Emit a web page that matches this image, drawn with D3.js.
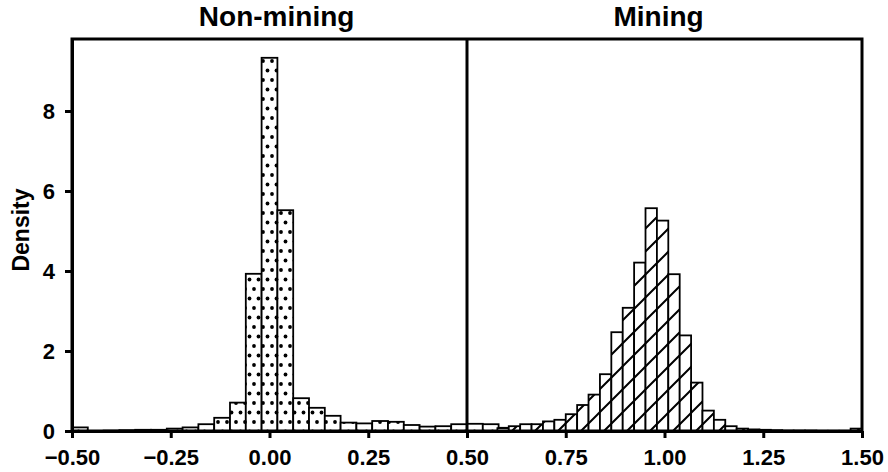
<!DOCTYPE html>
<html>
<head>
<meta charset="utf-8">
<script src="https://cdn.jsdelivr.net/npm/d3@7"></script>
<style>
  body { margin: 0; background: #fff; }
  text { font-family: "Liberation Sans", Arial, sans-serif; font-weight: bold; fill: #000; }
</style>
</head>
<body>
<div id="chart"></div>
<script>
// panel titles and axis ticks
const panelTitles = ["Non-mining", "Mining"];
const xTicks = [-0.5, -0.25, 0, 0.25, 0.5, 0.75, 1, 1.25, 1.5];
const yTicks = [0, 2, 4, 6, 8];

// non-mining histogram: bins of 0.04 starting at -0.50
const nonMiningStart = -0.5;
const nonMiningWidth = 0.04;
const nonMiningDensity = [
  0.09, 0.0, 0.01, 0.02, 0.03, 0.03, 0.06, 0.09, 0.17, 0.33,
  0.71, 3.93, 9.33, 5.52, 0.82, 0.58, 0.38, 0.21, 0.19, 0.25,
  0.23, 0.15, 0.11, 0.12, 0.17, 0.18, 0.17, 0.08, 0.06, 0.05,
  0.04, 0.03
];

// mining histogram: bins of ~0.0288 ending at 1.50
const miningWidth = 0.75 / 26;
const miningStart = 0.75 - 6 * miningWidth;
const miningDensity = [
  0.07, 0.12, 0.17, 0.17, 0.24, 0.28, 0.42, 0.65, 0.91, 1.42,
  2.47, 3.08, 4.21, 5.57, 5.26, 3.92, 2.39, 1.21, 0.51, 0.28,
  0.12, 0.06, 0.04, 0.03, 0.02, 0.01, 0.01, 0.01, 0.005, 0.005,
  0.005, 0.06
];

const w = 888, h = 472;
const margin = { top: 39, right: 26, bottom: 41, left: 72 };

const svg = d3.select("#chart").append("svg")
  .attr("width", w)
  .attr("height", h);

const x = d3.scaleLinear().domain([-0.5, 1.5]).range([margin.left, w - margin.right]);
const y = d3.scaleLinear().domain([0, 9.8]).range([h - margin.bottom, margin.top]);

// patterns
const defs = svg.append("defs");
const dots = defs.append("pattern")
  .attr("id", "dots")
  .attr("patternUnits", "userSpaceOnUse")
  .attr("width", 9).attr("height", 19);
dots.append("rect").attr("width", 9).attr("height", 19).attr("fill", "#fff");
dots.append("circle").attr("cx", 2).attr("cy", 4).attr("r", 1.9).attr("fill", "#000");
dots.append("circle").attr("cx", 6.5).attr("cy", 13.5).attr("r", 1.9).attr("fill", "#000");

const hatch = defs.append("pattern")
  .attr("id", "hatch")
  .attr("patternUnits", "userSpaceOnUse")
  .attr("width", 23).attr("height", 23);
hatch.append("rect").attr("width", 23).attr("height", 23).attr("fill", "#fff");
hatch.append("path")
  .attr("d", "M-2,25 L25,-2 M-2,2 L2,-2 M21,25 L25,21")
  .attr("stroke", "#000").attr("stroke-width", 2);

const clip = defs.append("clipPath").attr("id", "plotclip");
clip.append("rect")
  .attr("x", x(-0.5)).attr("y", margin.top)
  .attr("width", x(1.5) - x(-0.5)).attr("height", y(0) - margin.top);

const nonMining = nonMiningDensity.map((d, i) => ({
  x0: nonMiningStart + i * nonMiningWidth,
  x1: nonMiningStart + (i + 1) * nonMiningWidth,
  v: d
}));
const mining = miningDensity.map((d, i) => ({
  x0: miningStart + i * miningWidth,
  x1: miningStart + (i + 1) * miningWidth,
  v: d
}));

const bars = svg.append("g").attr("clip-path", "url(#plotclip)");

function drawBars(data, fill) {
  bars.append("g")
    .selectAll("rect")
    .data(data)
    .enter()
    .append("rect")
    .attr("x", d => x(d.x0))
    .attr("width", d => x(d.x1) - x(d.x0))
    .attr("y", d => y(d.v))
    .attr("height", d => y(0) - y(d.v))
    .attr("fill", fill)
    .attr("stroke", "#000")
    .attr("stroke-width", 1.8);
}
drawBars(nonMining, "url(#dots)");
drawBars(mining, "url(#hatch)");

// frame
svg.append("rect")
  .attr("x", x(-0.5)).attr("y", margin.top)
  .attr("width", x(1.5) - x(-0.5)).attr("height", y(0) - margin.top)
  .attr("fill", "none").attr("stroke", "#000").attr("stroke-width", 3);

// separator at 0.5
svg.append("line")
  .attr("x1", x(0.5)).attr("x2", x(0.5))
  .attr("y1", margin.top).attr("y2", y(0))
  .attr("stroke", "#000").attr("stroke-width", 3);

// axes
const xAxis = svg.append("g")
  .attr("transform", `translate(0,${y(0)})`)
  .call(d3.axisBottom(x).tickValues(xTicks).tickFormat(d3.format(".2f")).tickSize(7).tickPadding(11).tickSizeOuter(0));
const yAxis = svg.append("g")
  .attr("transform", `translate(${x(-0.5)},0)`)
  .call(d3.axisLeft(y).tickValues(yTicks).tickSize(7).tickPadding(10).tickSizeOuter(0));

[xAxis, yAxis].forEach(g => {
  g.select(".domain").attr("stroke-width", 3);
  g.selectAll(".tick line").attr("stroke-width", 3);
  g.selectAll(".tick text")
    .attr("font-size", 22)
    .attr("font-family", "'Liberation Sans', Arial, sans-serif")
    .attr("font-weight", "bold")
    .attr("fill", "#000");
});

// titles
svg.selectAll(".panel-title")
  .data(panelTitles)
  .enter()
  .append("text")
  .attr("class", "panel-title")
  .attr("x", (d, i) => i === 0 ? x(0.018) : x(0.985))
  .attr("y", 26)
  .attr("text-anchor", "middle")
  .attr("font-size", 28)
  .text(d => d);

svg.append("text")
  .attr("transform", `translate(29,${(margin.top + y(0)) / 2 - 5}) rotate(-90)`)
  .attr("text-anchor", "middle")
  .attr("font-size", 23)
  .text("Density");
</script>
</body>
</html>
